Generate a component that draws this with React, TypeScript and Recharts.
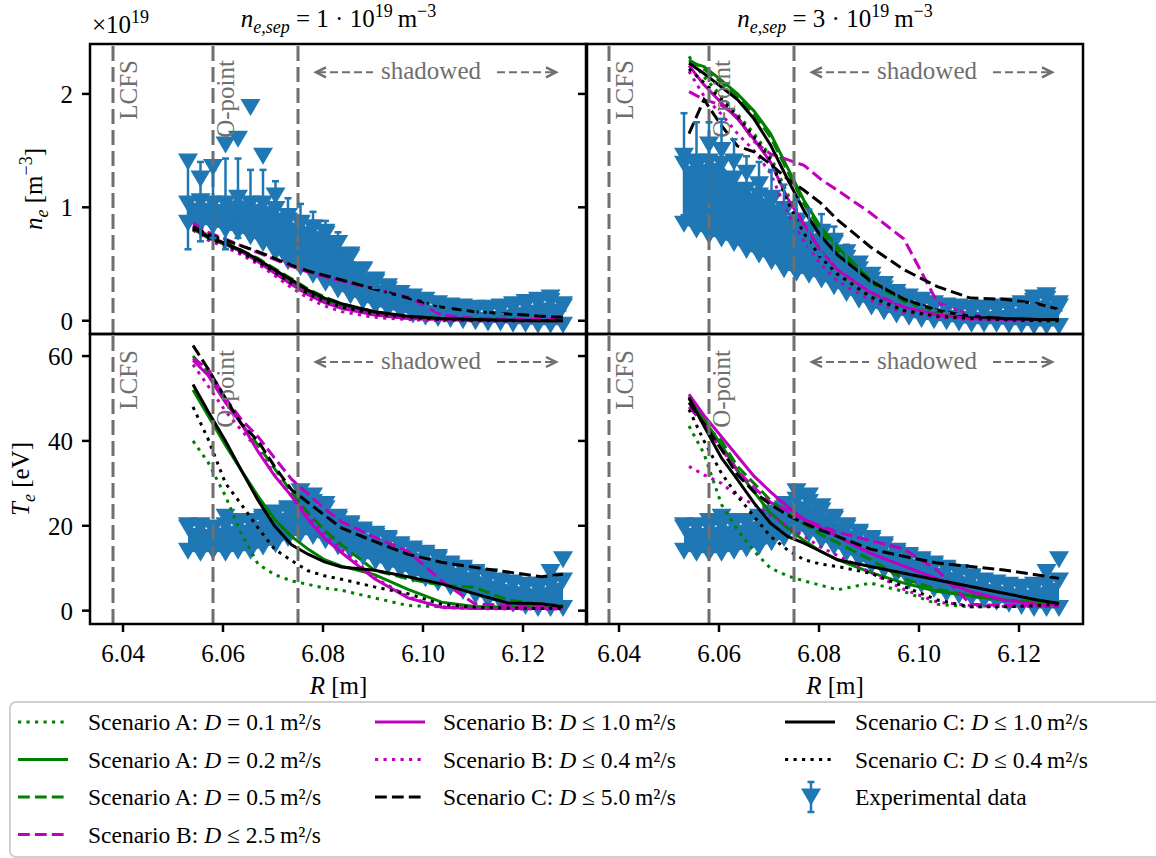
import React from "react";
import {
  ComposedChart, Line, Area, Scatter, ErrorBar, XAxis, YAxis,
  ReferenceLine, ReferenceArea, ReferenceDot,
} from "recharts";

const SERIF = '"Liberation Serif", "DejaVu Serif", serif';
const GRAY = "#6f6f6f";
const BLUE = "#1f77b4";
const GREEN = "#008000";
const MAGENTA = "#bf00bf";
const BLACK = "#000000";

const X_DOMAIN: [number, number] = [6.0334, 6.1328];
const X_TICKS = [6.04, 6.06, 6.08, 6.1, 6.12];
const NE_DOMAIN: [number, number] = [-0.117, 2.44];
const NE_TICKS = [0, 1, 2];
const TE_DOMAIN: [number, number] = [-3.15, 65.2];
const TE_TICKS = [0, 20, 40, 60];

const LCFS_R = 6.038;
const OPOINT_R = 6.058;
const SHADOW_R = 6.075;
const SHADOW_TEXT_R = 6.1016;

// radial grid of the simulated profiles
const MODEL_R = [6.054, 6.057, 6.0605, 6.0637, 6.067, 6.0703, 6.0737, 6.077, 6.0803, 6.0837, 6.0903, 6.097, 6.1037, 6.1103, 6.117, 6.1237, 6.128];

// n_e [1e19 m^-3], n_e,sep = 1e19
const NE1_A01 = [0.80, 0.72, 0.66, 0.59, 0.51, 0.42, 0.32, 0.23, 0.16, 0.11, 0.05, 0.02, 0.01, 0.0, 0.0, 0.0, 0.0];
const NE1_A02 = [0.81, 0.73, 0.67, 0.61, 0.53, 0.44, 0.34, 0.25, 0.18, 0.13, 0.07, 0.03, 0.015, 0.01, 0.005, 0.0, 0.0];
const NE1_A05 = [0.82, 0.75, 0.69, 0.62, 0.55, 0.46, 0.37, 0.28, 0.21, 0.15, 0.08, 0.04, 0.02, 0.01, 0.005, 0.0, 0.0];
const NE1_B25 = [0.86, 0.78, 0.72, 0.66, 0.60, 0.54, 0.48, 0.43, 0.39, 0.35, 0.28, 0.21, 0.05, 0.02, 0.015, 0.01, 0.01];
const NE1_B10 = [0.84, 0.75, 0.68, 0.61, 0.52, 0.42, 0.32, 0.23, 0.16, 0.11, 0.05, 0.02, 0.01, 0.0, 0.0, 0.0, 0.0];
const NE1_B04 = [0.80, 0.71, 0.65, 0.58, 0.50, 0.40, 0.29, 0.20, 0.13, 0.08, 0.03, 0.01, 0.0, 0.0, 0.0, 0.0, 0.0];
const NE1_C50 = [0.83, 0.76, 0.71, 0.66, 0.61, 0.55, 0.49, 0.44, 0.40, 0.36, 0.28, 0.20, 0.12, 0.08, 0.06, 0.04, 0.03];
const NE1_C10 = [0.82, 0.74, 0.68, 0.62, 0.54, 0.45, 0.36, 0.27, 0.20, 0.15, 0.08, 0.04, 0.02, 0.01, 0.005, 0.0, 0.0];
const NE1_C04 = [0.81, 0.73, 0.67, 0.60, 0.52, 0.43, 0.33, 0.24, 0.17, 0.12, 0.06, 0.03, 0.01, 0.005, 0.0, 0.0, 0.0];

// n_e [1e19 m^-3], n_e,sep = 3e19
const NE3_A01 = [2.33, 2.15, 1.98, 1.82, 1.65, 1.45, 1.12, 0.85, 0.62, 0.45, 0.22, 0.09, 0.04, 0.02, 0.01, 0.0, 0.0];
const NE3_A02 = [2.28, 2.24, 2.12, 2.00, 1.85, 1.65, 1.35, 1.06, 0.83, 0.65, 0.36, 0.18, 0.08, 0.035, 0.02, 0.01, 0.01];
const NE3_A05 = [2.30, 2.22, 2.10, 1.97, 1.82, 1.62, 1.32, 1.03, 0.80, 0.62, 0.34, 0.17, 0.07, 0.03, 0.02, 0.01, 0.01];
const NE3_B25 = [2.02, 1.95, 1.90, 1.80, 1.58, 1.47, 1.42, 1.37, 1.25, 1.15, 0.95, 0.72, 0.16, 0.05, 0.02, 0.01, 0.01];
const NE3_B10 = [2.25, 2.08, 1.92, 1.78, 1.60, 1.40, 1.08, 0.85, 0.62, 0.45, 0.25, 0.12, 0.05, 0.02, 0.01, 0.01, 0.01];
const NE3_B04 = [2.20, 1.98, 1.82, 1.65, 1.50, 1.30, 0.95, 0.70, 0.50, 0.35, 0.18, 0.07, 0.03, 0.01, 0.0, 0.0, 0.0];
const NE3_C50 = [1.65, 1.95, 1.72, 1.54, 1.49, 1.38, 1.25, 1.15, 1.04, 0.89, 0.65, 0.45, 0.30, 0.20, 0.19, 0.15, 0.10];
const NE3_C10 = [2.27, 2.18, 2.06, 1.95, 1.78, 1.55, 1.25, 0.97, 0.75, 0.58, 0.35, 0.19, 0.09, 0.04, 0.02, 0.01, 0.01];
const NE3_C04 = [2.22, 2.10, 1.95, 1.80, 1.62, 1.42, 1.05, 0.77, 0.56, 0.41, 0.21, 0.09, 0.04, 0.02, 0.01, 0.0, 0.0];

// T_e [eV], n_e,sep = 1e19
const TE1_A01 = [40, 35, 27, 18, 11, 8.5, 7, 6.2, 5.3, 4.8, 3.0, 1.2, 0.9, 0.8, 0.8, 0.8, 0.8];
const TE1_A02 = [52, 46, 39, 33, 27, 21.5, 17.5, 14.5, 12, 10.5, 8.5, 5, 2, 1, 0.8, 0.8, 0.8];
const TE1_A05 = [60, 56, 50, 44, 39, 33.5, 28, 23, 19, 15.5, 9.5, 7.5, 6, 5.5, 2.5, 1.5, 1.2];
const TE1_B25 = [59.5, 57, 50, 45, 41, 36, 31, 27.5, 24, 21, 17.3, 14, 7, 1.6, 1.2, 1.0, 0.8];
const TE1_B10 = [59, 55.5, 49, 44, 37.5, 31.8, 27, 21.5, 17, 13.7, 7.5, 3.0, 0.8, 0.5, 0.5, 0.5, 0.5];
const TE1_B04 = [58, 53, 47, 42.5, 38, 32, 27, 22.5, 18, 14.5, 7.8, 3.3, 0.7, 0.5, 0.4, 0.4, 0.4];
const TE1_C50 = [62.5, 57, 50, 44, 40, 34, 28.5, 25.5, 22.5, 19.5, 16.3, 13.3, 11.4, 10.2, 9.1, 8.0, 8.6];
const TE1_C10 = [53.3, 47, 40, 33, 26, 20, 15.5, 13.3, 11.5, 10.3, 9.5, 8.0, 6.3, 4.0, 1.8, 1.6, 0.9];
const TE1_C04 = [48, 40.5, 30, 25, 19.5, 14.5, 11.8, 9.4, 8.2, 7.4, 5.6, 4.0, 1.5, 0.8, 0.6, 0.5, 0.5];

// T_e [eV], n_e,sep = 3e19
const TE3_A01 = [43.5, 37, 25, 19, 14, 10, 8.2, 7, 6, 4.9, 6.5, 4.5, 1.5, 0.9, 1.0, 1.0, 1.0];
const TE3_A02 = [50.5, 45, 39, 33, 28, 23, 19.5, 16.5, 14, 12, 9, 6.5, 4.5, 3.5, 2.5, 1.8, 1.5];
const TE3_A05 = [50, 44, 40, 34, 30, 26, 23, 20.5, 18, 16, 12, 7.5, 5, 3.5, 2.5, 2, 1.8];
const TE3_B25 = [48, 44, 38, 33, 29, 25.5, 23.5, 21.5, 20, 18.5, 16.5, 14.5, 9.5, 1.5, 1.2, 1.2, 1.2];
const TE3_B10 = [51, 46, 41, 36.4, 31.7, 28, 24.5, 21.5, 19.5, 17.5, 13.5, 10.5, 7.5, 4.5, 2.5, 1.5, 1.3];
const TE3_B04 = [34, 32, 30, 27, 25, 22.5, 20, 17.5, 15, 13, 9, 5, 2, 1.2, 1.0, 1.0, 1.0];
const TE3_C50 = [49, 44, 38, 32, 28, 25, 22.5, 20.6, 19, 17.5, 14.5, 12.8, 11.2, 10.4, 9.6, 8.4, 7.6];
const TE3_C10 = [50.2, 43.5, 36, 30.9, 25.4, 20.6, 17.5, 15.9, 14, 12, 10.4, 8.8, 7.2, 5.7, 4.1, 2.5, 1.7];
const TE3_C04 = [47.4, 40, 32.4, 27, 22.2, 17.5, 14.3, 12, 11, 10.4, 8.8, 5.7, 2.5, 0.9, 0.9, 1.2, 1.5];

// measured profiles: bottom and top of the dense scatter, plus the upper outliers
const EXP_R = [6.053, 6.0555, 6.058, 6.0605, 6.063, 6.0655, 6.068, 6.0705, 6.073, 6.0755, 6.078, 6.0805, 6.083, 6.0855, 6.088, 6.0905, 6.093, 6.0955, 6.098, 6.1005, 6.103, 6.1055, 6.108, 6.1105, 6.113, 6.1155, 6.118, 6.1205, 6.123, 6.1255, 6.128];

const NE1_EXP_LO = [0.86, 0.85, 0.83, 0.80, 0.78, 0.74, 0.68, 0.60, 0.52, 0.47, 0.40, 0.33, 0.27, 0.22, 0.17, 0.13, 0.10, 0.08, 0.05, 0.03, 0.02, 0.01, 0.0, -0.01, -0.02, -0.02, -0.03, -0.03, -0.04, -0.04, -0.04];
const NE1_EXP_MID = [1.03, 1.05, 1.03, 1.03, 1.08, 1.03, 1.03, 0.98, 0.88, 0.85, 0.81, 0.76, 0.68, 0.56, 0.44, 0.34, 0.27, 0.21, 0.18, 0.15, 0.12, 0.10, 0.09, 0.08, 0.08, 0.09, 0.11, 0.13, 0.15, 0.17, 0.12];
const NE1_EXP_HI = [1.40, 1.25, 1.35, 1.55, 1.60, 1.88, 1.45, 1.10, 0.92, 0.86, 0.82, 0.78, 0.68, 0.58, 0.45, 0.36, 0.30, 0.24, 0.21, 0.18, 0.15, 0.13, 0.12, 0.11, 0.11, 0.12, 0.14, 0.16, 0.18, 0.20, 0.14];
const NE1_EXP_ERR = [0.4, 0.35, 0.3, 0.4, 0.35, 0.3, 0.3, 0.25, 0.2, 0.18, 0.15, 0.12, 0.1, 0.08, 0.06, 0.05, 0.04, 0.04, 0.03, 0.03, 0.03, 0.03, 0.03, 0.03, 0.03, 0.03, 0.03, 0.03, 0.03, 0.03, 0.03];

const NE3_EXP_LO = [0.85, 0.80, 0.75, 0.72, 0.68, 0.62, 0.58, 0.52, 0.45, 0.42, 0.40, 0.36, 0.30, 0.24, 0.18, 0.12, 0.08, 0.05, 0.03, 0.01, 0.0, -0.01, -0.02, -0.03, -0.03, -0.03, -0.04, -0.04, -0.05, -0.05, -0.05];
const NE3_EXP_MID = [1.38, 1.35, 1.40, 1.38, 1.25, 1.15, 1.10, 1.05, 0.95, 0.85, 0.78, 0.76, 0.68, 0.55, 0.45, 0.36, 0.28, 0.22, 0.18, 0.15, 0.12, 0.10, 0.09, 0.08, 0.08, 0.09, 0.10, 0.12, 0.17, 0.19, 0.12];
const NE3_EXP_HI = [1.45, 1.40, 1.55, 1.50, 1.40, 1.30, 1.20, 1.08, 0.98, 0.88, 0.80, 0.78, 0.70, 0.60, 0.50, 0.40, 0.32, 0.25, 0.21, 0.18, 0.15, 0.13, 0.12, 0.11, 0.11, 0.12, 0.13, 0.15, 0.20, 0.22, 0.15];
const NE3_EXP_ERR = [0.45, 0.4, 0.35, 0.4, 0.35, 0.3, 0.3, 0.28, 0.25, 0.22, 0.2, 0.18, 0.15, 0.12, 0.1, 0.08, 0.06, 0.05, 0.04, 0.03, 0.03, 0.03, 0.03, 0.03, 0.03, 0.03, 0.03, 0.03, 0.03, 0.03, 0.03];

const TE1_EXP_LO = [14, 13.5, 14, 13.5, 14, 14, 15, 15.5, 17, 18, 17.5, 16.5, 15, 14, 12.5, 11.5, 10.5, 9.5, 8.5, 7.5, 6.5, 5.5, 4.5, 3.5, 2.5, 2, 1.5, 1, 0.5, 0.5, 0.5];
const TE1_EXP_MID = [19.5, 19.5, 19, 20, 20, 20.5, 21.5, 22.5, 23.5, 26, 25.5, 24, 21.5, 20, 18.5, 17.5, 16.5, 15, 14, 13, 12, 10.5, 9.5, 8.5, 7.5, 6.5, 6, 5.5, 5, 6, 7];
const TE1_EXP_HI = [20, 20, 19.5, 22, 21, 21, 22, 23, 24, 28, 27, 25, 22, 20.5, 19, 18, 17, 15.5, 14.5, 13.5, 12.5, 11, 10, 9, 8, 7, 6.5, 6, 6, 9, 12];

const TE3_EXP_LO = [14, 13.5, 13.5, 13.5, 14, 14.5, 15, 16, 17, 19, 18, 16.5, 15, 13.5, 12, 10.5, 9.5, 8.5, 7, 6, 5, 4, 3.5, 3, 2.5, 2, 1.5, 1, 0.5, 0.5, 0.5];
const TE3_EXP_MID = [19.5, 19.5, 19.5, 20, 20, 20.5, 21.5, 22.5, 24, 26, 25.5, 23.5, 21.5, 19.5, 18, 16.5, 15, 13.5, 12.5, 11.5, 10.5, 9.5, 8.5, 7.5, 6.5, 6, 5.5, 5, 5, 6, 7];
const TE3_EXP_HI = [20, 20, 21, 22, 21, 21, 22, 23, 25, 28, 27, 24.5, 22, 20, 18.5, 17, 15.5, 14, 13, 12, 11, 10, 9, 8, 7, 6.5, 6, 5.5, 6, 9, 12];

const DOTTED = "3.2 5.3";
const DASHED = "11.8 5.1";

const SERIES = [
  { key: "a01", color: GREEN, dash: DOTTED, scen: "A", op: "=", d: "0.1" },
  { key: "a02", color: GREEN, dash: undefined, scen: "A", op: "=", d: "0.2" },
  { key: "a05", color: GREEN, dash: DASHED, scen: "A", op: "=", d: "0.5" },
  { key: "b25", color: MAGENTA, dash: DASHED, scen: "B", op: "≤", d: "2.5" },
  { key: "b10", color: MAGENTA, dash: undefined, scen: "B", op: "≤", d: "1.0" },
  { key: "b04", color: MAGENTA, dash: DOTTED, scen: "B", op: "≤", d: "0.4" },
  { key: "c50", color: BLACK, dash: DASHED, scen: "C", op: "≤", d: "5.0" },
  { key: "c10", color: BLACK, dash: undefined, scen: "C", op: "≤", d: "1.0" },
  { key: "c04", color: BLACK, dash: DOTTED, scen: "C", op: "≤", d: "0.4" },
];

function modelRows(cols: Record<string, number[]>) {
  return MODEL_R.map((R, i) => {
    const row: Record<string, number> = { R };
    for (const k in cols) row[k] = cols[k][i];
    return row;
  });
}

type ExpPoint = { R: number; v: number; err: number };

function expPoints(lo: number[], mid: number[], hi: number[], err?: number[]) {
  const pts: ExpPoint[] = [];
  EXP_R.forEach((R, i) => {
    pts.push({ R, v: lo[i], err: 0 });
    pts.push({ R, v: hi[i], err: 0 });
    pts.push({ R, v: mid[i], err: err ? err[i] : 0 });
  });
  return pts;
}

// filled body of the measurement cloud, between bottom and top rows
function expBand(lo: number[], mid: number[]) {
  return EXP_R.map((R, i) => ({ R, band: [lo[i], mid[i]] }));
}

const NE1_ROWS = modelRows({ a01: NE1_A01, a02: NE1_A02, a05: NE1_A05, b25: NE1_B25, b10: NE1_B10, b04: NE1_B04, c50: NE1_C50, c10: NE1_C10, c04: NE1_C04 });
const NE3_ROWS = modelRows({ a01: NE3_A01, a02: NE3_A02, a05: NE3_A05, b25: NE3_B25, b10: NE3_B10, b04: NE3_B04, c50: NE3_C50, c10: NE3_C10, c04: NE3_C04 });
const TE1_ROWS = modelRows({ a01: TE1_A01, a02: TE1_A02, a05: TE1_A05, b25: TE1_B25, b10: TE1_B10, b04: TE1_B04, c50: TE1_C50, c10: TE1_C10, c04: TE1_C04 });
const TE3_ROWS = modelRows({ a01: TE3_A01, a02: TE3_A02, a05: TE3_A05, b25: TE3_B25, b10: TE3_B10, b04: TE3_B04, c50: TE3_C50, c10: TE3_C10, c04: TE3_C04 });

const NE1_EXP = expPoints(NE1_EXP_LO, NE1_EXP_MID, NE1_EXP_HI, NE1_EXP_ERR);
const NE3_EXP = expPoints(NE3_EXP_LO, NE3_EXP_MID, NE3_EXP_HI, NE3_EXP_ERR);
const TE1_EXP = expPoints(TE1_EXP_LO, TE1_EXP_MID, TE1_EXP_HI);
const TE3_EXP = expPoints(TE3_EXP_LO, TE3_EXP_MID, TE3_EXP_HI);

const NE1_BAND = expBand(NE1_EXP_LO, NE1_EXP_MID);
const NE3_BAND = expBand(NE3_EXP_LO, NE3_EXP_MID);
const TE1_BAND = expBand(TE1_EXP_LO, TE1_EXP_MID);
const TE3_BAND = expBand(TE3_EXP_LO, TE3_EXP_MID);

const PLOT_W = 497;
const PLOT_H = 290;
const TRI_W = 20;
const TRI_H = 17;

function triPath(cx: number, cy: number) {
  return `M${cx - TRI_W / 2},${cy - TRI_H / 2}L${cx + TRI_W / 2},${cy - TRI_H / 2}L${cx},${cy + TRI_H / 2}Z`;
}

const renderTri = (p: any) => <path d={triPath(p.cx, p.cy)} fill={BLUE} />;

function VLabel({ viewBox, text, dx }: any) {
  const x = viewBox.x + dx;
  const y = viewBox.y + 16;
  return (
    <text x={x} y={y} transform={`rotate(-90 ${x} ${y})`} textAnchor="end"
      fill={GRAY} fontSize={25} fontFamily={SERIF}>{text}</text>
  );
}

function ShadowedNote({ cx, cy }: { cx: number; cy: number }) {
  const arrow = { stroke: GRAY, strokeWidth: 2, fill: "none" };
  return (
    <g>
      <line x1={cx - 113} y1={cy} x2={cx - 58} y2={cy} {...arrow} strokeDasharray="8 4" />
      <polyline points={`${cx - 105},${cy - 5} ${cx - 115},${cy} ${cx - 105},${cy + 5}`} {...arrow} strokeWidth={2.5} />
      <line x1={cx + 66} y1={cy} x2={cx + 123} y2={cy} {...arrow} strokeDasharray="8 4" />
      <polyline points={`${cx + 115},${cy - 5} ${cx + 125},${cy} ${cx + 115},${cy + 5}`} {...arrow} strokeWidth={2.5} />
      <text x={cx} y={cy + 7} textAnchor="middle" fill={GRAY} fontSize={25} fontFamily={SERIF}>shadowed</text>
    </g>
  );
}

type PanelProps = {
  left: number;
  top: number;
  rows: Record<string, number>[];
  exp: ExpPoint[];
  band: { R: number; band: number[] }[];
  yDomain: [number, number];
  yTicks: number[];
  yLabels: boolean;
  xAxis: boolean;
  errors: boolean;
  noteY: number;
};

function Panel({ left, top, rows, exp, band, yDomain, yTicks, yLabels, xAxis, errors, noteY }: PanelProps) {
  const height = 10 + PLOT_H + (xAxis ? 50 : 0) + 10;
  const tickFont = { fill: "#000", fontSize: 25, fontFamily: SERIF };
  return (
    <div style={{ position: "absolute", left: left - 90, top: top - 10 }}>
      <ComposedChart width={90 + PLOT_W + 10} height={height} data={rows}
        margin={{ top: 10, right: 10, bottom: 10, left: 0 }}>
        <XAxis type="number" dataKey="R" domain={X_DOMAIN} allowDataOverflow ticks={X_TICKS}
          hide={!xAxis} height={50} axisLine={false} tickSize={8} tickMargin={12}
          tickLine={{ stroke: "#000", strokeWidth: 2.5 }} tick={tickFont}
          tickFormatter={(v: number) => v.toFixed(2)} interval={0} />
        <YAxis type="number" domain={yDomain} allowDataOverflow ticks={yTicks} width={90}
          axisLine={false} tickSize={8} tickMargin={9} interval={0}
          tickLine={{ stroke: "#000", strokeWidth: 2.5 }} tick={tickFont}
          tickFormatter={(v: number) => (yLabels ? String(v) : "")} />
        <Area data={band} dataKey="band" type="linear" stroke="none" fill={BLUE} fillOpacity={1}
          isAnimationActive={false} activeDot={false} zIndex={340} />
        <Scatter data={exp} dataKey="v" fill={BLUE} shape={renderTri} isAnimationActive={false} zIndex={350}>
          {errors && <ErrorBar dataKey="err" direction="y" width={3.5} stroke={BLUE} strokeWidth={2.5} />}
        </Scatter>
        {SERIES.map((s) => (
          <Line key={s.key} type="linear" dataKey={s.key} stroke={s.color} strokeWidth={3}
            strokeDasharray={s.dash} dot={false} activeDot={false} isAnimationActive={false} />
        ))}
        <ReferenceLine x={LCFS_R} stroke={GRAY} strokeWidth={3} strokeDasharray="15 6"
          label={(p: any) => <VLabel {...p} text="LCFS" dx={24} />} />
        <ReferenceLine x={OPOINT_R} stroke={GRAY} strokeWidth={3} strokeDasharray="15 6"
          label={(p: any) => <VLabel {...p} text="O-point" dx={21} />} />
        <ReferenceLine x={SHADOW_R} stroke={GRAY} strokeWidth={3} strokeDasharray="15 6" />
        <ReferenceDot x={SHADOW_TEXT_R} y={noteY} r={0} ifOverflow="visible"
          shape={(p: any) => <ShadowedNote cx={p.cx} cy={p.cy} />} />
        <ReferenceArea x1={X_DOMAIN[0]} x2={X_DOMAIN[1]} y1={yDomain[0]} y2={yDomain[1]}
          fill="none" fillOpacity={0} stroke="#000" strokeWidth={2.5} ifOverflow="visible" zIndex={700} />
      </ComposedChart>
    </div>
  );
}

function LegendHandle({ x, y, s }: any) {
  return <line x1={x} y1={y} x2={x + 50} y2={y} stroke={s.color} strokeWidth={3.2} strokeDasharray={s.dash} />;
}

function LegendText({ x, y, s }: any) {
  return (
    <text x={x} y={y + 8} fontSize={23.5} fontFamily={SERIF} fill="#000">
      {`Scenario ${s.scen}: `}
      <tspan fontStyle="italic">D</tspan>
      {` ${s.op} ${s.d}\u2009m²/s`}
    </text>
  );
}

const LEGEND_COLS = [
  { hx: 18, tx: 88, keys: ["a01", "a02", "a05", "b25"] },
  { hx: 375, tx: 443, keys: ["b10", "b04", "c50"] },
  { hx: 785, tx: 855, keys: ["c10", "c04"] },
];
const LEGEND_ROWS = [722, 759.5, 797, 834.5];

function Overlay() {
  const txt = { fontFamily: SERIF, fill: "#000" };
  return (
    <svg width={1156} height={858} style={{ position: "absolute", left: 0, top: 0, pointerEvents: "none" }}>
      <text x={92} y={33} fontSize={25} {...txt}>
        ×10<tspan fontSize={18} dy={-10}>19</tspan>
      </text>
      {[{ x: 338.5, n: "1" }, { x: 835, n: "3" }].map((t) => (
        <text key={t.n} x={t.x} y={27} fontSize={25} textAnchor="middle" {...txt}>
          <tspan fontStyle="italic">n</tspan>
          <tspan fontSize={18} fontStyle="italic" dy={6}>e,sep</tspan>
          <tspan dy={-6}>{` = ${t.n} · 10`}</tspan>
          <tspan fontSize={18} dy={-10}>19</tspan>
          <tspan dy={10}>{"\u2009m"}</tspan>
          <tspan fontSize={18} dy={-10}>−3</tspan>
        </text>
      ))}
      <g transform="rotate(-90 42 189)">
        <text x={42} y={189} fontSize={25} textAnchor="middle" {...txt}>
          <tspan fontStyle="italic">n</tspan>
          <tspan fontSize={18} fontStyle="italic" dy={6}>e</tspan>
          <tspan dy={-6}>{" [m"}</tspan>
          <tspan fontSize={18} dy={-10}>−3</tspan>
          <tspan dy={10}>]</tspan>
        </text>
      </g>
      <g transform="rotate(-90 29 479)">
        <text x={29} y={479} fontSize={25} textAnchor="middle" {...txt}>
          <tspan fontStyle="italic">T</tspan>
          <tspan fontSize={18} fontStyle="italic" dy={6}>e</tspan>
          <tspan dy={-6}>{" [eV]"}</tspan>
        </text>
      </g>
      {[338.5, 835].map((x) => (
        <text key={x} x={x} y={694} fontSize={25} textAnchor="middle" {...txt}>
          <tspan fontStyle="italic">R</tspan> [m]
        </text>
      ))}

      <rect x={10} y={702} width={1160} height={155} rx={6} fill="#fff" stroke="#d0d0d0" strokeWidth={2} />
      {LEGEND_COLS.map((c) =>
        c.keys.map((k, i) => {
          const s = SERIES.find((q) => q.key === k)!;
          return (
            <g key={k}>
              <LegendHandle x={c.hx} y={LEGEND_ROWS[i]} s={s} />
              <LegendText x={c.tx} y={LEGEND_ROWS[i]} s={s} />
            </g>
          );
        })
      )}
      <g>
        <line x1={811} y1={782} x2={811} y2={812} stroke={BLUE} strokeWidth={2.5} />
        <line x1={807.5} y1={782} x2={814.5} y2={782} stroke={BLUE} strokeWidth={2.5} />
        <line x1={807.5} y1={812} x2={814.5} y2={812} stroke={BLUE} strokeWidth={2.5} />
        <path d={triPath(811, 797)} fill={BLUE} />
        <text x={855} y={805} fontSize={23.5} {...txt}>Experimental data</text>
      </g>
    </svg>
  );
}

export default function App() {
  return (
    <div style={{ position: "absolute", left: 0, top: 0, width: 1156, height: 858, overflow: "hidden", background: "#fff", fontFamily: SERIF }}>
      <Panel left={90} top={44} rows={NE1_ROWS} exp={NE1_EXP} band={NE1_BAND} yDomain={NE_DOMAIN} yTicks={NE_TICKS}
        yLabels xAxis={false} errors noteY={2.19} />
      <Panel left={586} top={44} rows={NE3_ROWS} exp={NE3_EXP} band={NE3_BAND} yDomain={NE_DOMAIN} yTicks={NE_TICKS}
        yLabels={false} xAxis={false} errors noteY={2.19} />
      <Panel left={90} top={334} rows={TE1_ROWS} exp={TE1_EXP} band={TE1_BAND} yDomain={TE_DOMAIN} yTicks={TE_TICKS}
        yLabels xAxis errors={false} noteY={58.6} />
      <Panel left={586} top={334} rows={TE3_ROWS} exp={TE3_EXP} band={TE3_BAND} yDomain={TE_DOMAIN} yTicks={TE_TICKS}
        yLabels={false} xAxis errors={false} noteY={58.6} />
      <Overlay />
    </div>
  );
}
